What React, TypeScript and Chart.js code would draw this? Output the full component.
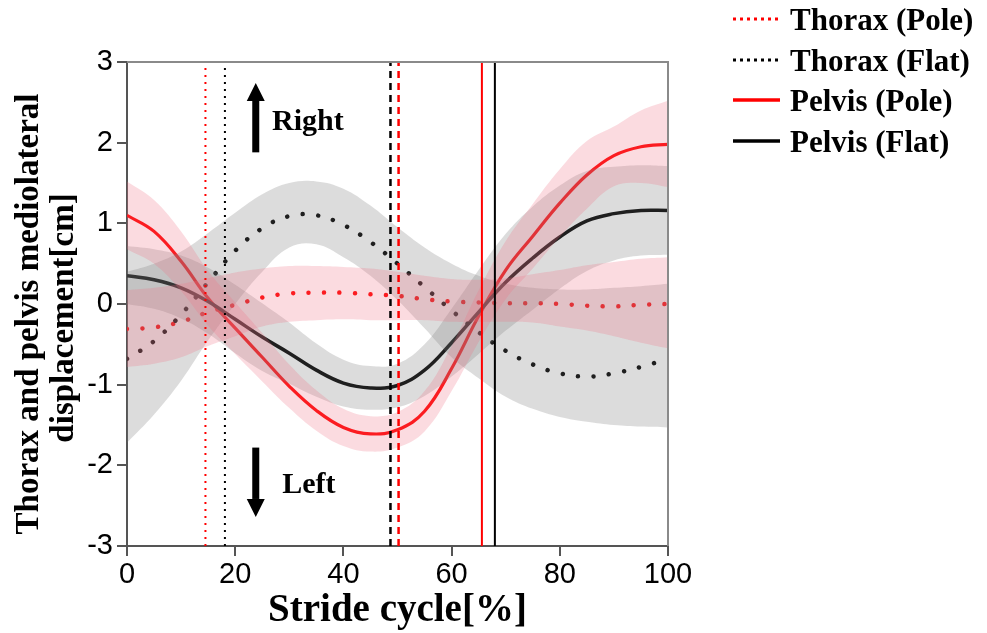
import React, { useEffect, useRef } from 'react';
import { Chart, registerables } from 'chart.js';

Chart.register(...registerables);

// ---------- data ----------
const stride = [0, 5, 10, 15, 20, 25, 30, 35, 40, 45, 50, 55, 60, 65, 70, 75, 80, 85, 90, 95, 100];

const thoraxPole = [-0.31, -0.29, -0.22, -0.1, -0.01, 0.08, 0.13, 0.14, 0.14, 0.12, 0.1, 0.06, 0.03, 0.02, 0.01, 0.01, 0.0, -0.02, -0.03, -0.01, 0.0];
const thoraxPoleUpper = [0.17, 0.2, 0.25, 0.32, 0.39, 0.44, 0.47, 0.47, 0.46, 0.44, 0.4, 0.35, 0.31, 0.3, 0.32, 0.37, 0.42, 0.48, 0.52, 0.56, 0.58];
const thoraxPoleLower = [-0.78, -0.74, -0.66, -0.52, -0.4, -0.28, -0.22, -0.2, -0.19, -0.2, -0.2, -0.2, -0.22, -0.22, -0.22, -0.23, -0.28, -0.33, -0.4, -0.48, -0.55];

const thoraxFlat = [-0.68, -0.46, -0.13, 0.27, 0.66, 0.94, 1.09, 1.1, 0.98, 0.77, 0.5, 0.21, -0.08, -0.35, -0.58, -0.75, -0.86, -0.9, -0.86, -0.78, -0.68];
const thoraxFlatUpper = [0.4, 0.5, 0.65, 0.88, 1.13, 1.36, 1.5, 1.52, 1.43, 1.22, 0.95, 0.7, 0.5, 0.35, 0.25, 0.2, 0.18, 0.18, 0.2, 0.22, 0.25];
const thoraxFlatLower = [-1.72, -1.37, -0.95, -0.45, 0.0, 0.4, 0.7, 0.74, 0.58, 0.35, 0.05, -0.3, -0.66, -0.92, -1.15, -1.3, -1.4, -1.46, -1.5, -1.52, -1.53];

const pelvisPole = [1.1, 0.9, 0.53, 0.07, -0.3, -0.66, -1.02, -1.32, -1.53, -1.61, -1.56, -1.33, -0.8, -0.15, 0.42, 0.84, 1.25, 1.6, 1.84, 1.95, 1.98];
const pelvisPoleUpper = [1.52, 1.29, 0.9, 0.41, 0.02, -0.36, -0.75, -1.07, -1.3, -1.39, -1.34, -1.08, -0.52, 0.17, 0.78, 1.24, 1.67, 2.02, 2.2, 2.4, 2.52];
const pelvisPoleLower = [0.68, 0.5, 0.16, -0.27, -0.62, -0.96, -1.29, -1.57, -1.76, -1.83, -1.78, -1.58, -1.08, -0.47, 0.06, 0.44, 0.83, 1.18, 1.46, 1.5, 1.45];

const pelvisFlat = [0.35, 0.3, 0.2, 0.03, -0.19, -0.41, -0.61, -0.82, -0.98, -1.04, -1.01, -0.82, -0.48, -0.1, 0.27, 0.57, 0.83, 1.03, 1.12, 1.16, 1.16];
const pelvisFlatUpper = [0.72, 0.68, 0.6, 0.45, 0.24, 0.01, -0.23, -0.49, -0.69, -0.77, -0.74, -0.5, -0.06, 0.42, 0.87, 1.21, 1.47, 1.65, 1.7, 1.72, 1.71];
const pelvisFlatLower = [0.0, -0.06, -0.18, -0.37, -0.61, -0.83, -0.99, -1.15, -1.27, -1.31, -1.28, -1.14, -0.9, -0.62, -0.33, -0.07, 0.19, 0.41, 0.54, 0.6, 0.61];

// event markers (stride %)
const thoraxEventX = [14.5, 18.1]; // pole, flat (dotted)
const thoraxEvent2X = [50.2, 48.7]; // pole, flat (dashed)
const pelvisEventX = [65.6, 68.0]; // pole, flat (solid)

const xTicks = [0, 20, 40, 60, 80, 100];
const yTicks = [-3, -2, -1, 0, 1, 2, 3];

const legendLabels = ['Thorax (Pole)', 'Thorax (Flat)', 'Pelvis (Pole)', 'Pelvis (Flat)'];
const directionLabels = ['Right', 'Left'];
const yTitleLines = ['Thorax and pelvis mediolateral', 'displacement[cm]'];
const xTitle = 'Stride cycle[%]';

// ---------- styles ----------
const RED = '#ff0000';
const BLACK = '#000000';
const PINK_FILL = 'rgba(240, 110, 130, 0.25)';
const GRAY_FILL = 'rgba(120, 120, 120, 0.26)';
const SERIF = '"Liberation Serif", "Times New Roman", serif';
const SANS = '"Liberation Sans", Arial, sans-serif';

const pts = (arr: number[]) => stride.map((x, i) => ({ x, y: arr[i] }));
const vline = (x: number) => [{ x, y: yTicks[0] }, { x, y: yTicks[yTicks.length - 1] }];

export default function App() {
  const ref = useRef<HTMLCanvasElement | null>(null);

  useEffect(() => {
    const canvas = ref.current;
    if (!canvas) return;

    const base = { pointRadius: 0, pointHoverRadius: 0, tension: 0.4 };
    const noBorder = { borderColor: 'rgba(0,0,0,0)', borderWidth: 0 };

    const datasets: any[] = [];
    // vertical event lines (top)
    const vStyles = [
      { x: thoraxEventX[0], color: RED, dash: [2, 5], w: 2 },
      { x: thoraxEventX[1], color: BLACK, dash: [2, 5], w: 2 },
      { x: thoraxEvent2X[0], color: RED, dash: [7, 5], w: 2.5 },
      { x: thoraxEvent2X[1], color: BLACK, dash: [7, 5], w: 2.5 },
      { x: pelvisEventX[0], color: RED, dash: [], w: 2 },
      { x: pelvisEventX[1], color: BLACK, dash: [], w: 2 },
    ];
    vStyles.forEach((v) => {
      datasets.push({ ...base, data: vline(v.x), borderColor: v.color, borderWidth: v.w, borderDash: v.dash, fill: false, order: 0, tension: 0 });
    });

    // bands (drawn over the mean lines)
    const bands = [
      { up: pelvisPoleUpper, lo: pelvisPoleLower, color: PINK_FILL },
      { up: thoraxPoleUpper, lo: thoraxPoleLower, color: PINK_FILL },
      { up: pelvisFlatUpper, lo: pelvisFlatLower, color: GRAY_FILL },
      { up: thoraxFlatUpper, lo: thoraxFlatLower, color: GRAY_FILL },
    ];
    bands.forEach((b) => {
      const upIdx = datasets.length;
      datasets.push({ ...base, ...noBorder, data: pts(b.up), fill: { target: upIdx + 1 }, backgroundColor: b.color, order: 1 });
      datasets.push({ ...base, ...noBorder, data: pts(b.lo), fill: false, order: 1 });
    });

    // mean lines
    datasets.push({ ...base, data: pts(pelvisFlat), borderColor: BLACK, borderWidth: 3.5, fill: false, order: 2 });
    datasets.push({ ...base, data: pts(pelvisPole), borderColor: RED, borderWidth: 3.2, fill: false, order: 2 });
    datasets.push({ ...base, data: pts(thoraxFlat), borderColor: BLACK, borderWidth: 4.5, borderDash: [0.01, 15.5], borderCapStyle: 'round', fill: false, order: 2 });
    datasets.push({ ...base, data: pts(thoraxPole), borderColor: RED, borderWidth: 4.5, borderDash: [0.01, 15.5], borderCapStyle: 'round', fill: false, order: 2 });

    const overlay = {
      id: 'overlay',
      afterDatasetsDraw(chart: any) {
        const { ctx, chartArea, scales } = chart;
        const xs = scales.x, ys = scales.y;
        ctx.save();
        // top & right frame
        ctx.strokeStyle = '#8a8a8a';
        ctx.lineWidth = 2;
        ctx.beginPath();
        ctx.moveTo(chartArea.left, chartArea.top);
        ctx.lineTo(chartArea.right, chartArea.top);
        ctx.lineTo(chartArea.right, chartArea.bottom);
        ctx.stroke();

        // direction arrows
        const arrows = [
          { x: 23.8, from: 1.88, to: 2.74, label: directionLabels[0], lx: 26.8, ly: 2.16 },
          { x: 23.8, from: -1.78, to: -2.64, label: directionLabels[1], lx: 28.7, ly: -2.34 },
        ];
        ctx.fillStyle = '#000';
        arrows.forEach((a) => {
          const px = xs.getPixelForValue(a.x);
          const p0 = ys.getPixelForValue(a.from);
          const p1 = ys.getPixelForValue(a.to);
          const dir = p1 < p0 ? -1 : 1;
          const head = 18;
          const baseY = p1 - dir * head;
          ctx.fillRect(px - 3.5, Math.min(p0, baseY), 7, Math.abs(baseY - p0));
          ctx.beginPath();
          ctx.moveTo(px - 9, baseY);
          ctx.lineTo(px + 9, baseY);
          ctx.lineTo(px, p1);
          ctx.closePath();
          ctx.fill();
          ctx.font = `bold 30px ${SERIF}`;
          ctx.textAlign = 'left';
          ctx.textBaseline = 'alphabetic';
          ctx.fillText(a.label, xs.getPixelForValue(a.lx), ys.getPixelForValue(a.ly));
        });
        ctx.restore();
      },
      afterDraw(chart: any) {
        const { ctx, chartArea } = chart;
        ctx.save();
        // y-axis title (two lines, rotated)
        ctx.translate(29, (chartArea.top + chartArea.bottom) / 2 + 10);
        ctx.rotate(-Math.PI / 2);
        ctx.fillStyle = '#000';
        ctx.font = `bold 33px ${SERIF}`;
        ctx.textAlign = 'center';
        ctx.textBaseline = 'middle';
        ctx.fillText(yTitleLines[0], 0, 0);
        ctx.fillText(yTitleLines[1], -4, 35);
        ctx.restore();

        ctx.save();
        const items = [
          { color: RED, dash: [3, 4], w: 3 },
          { color: BLACK, dash: [3, 4], w: 3 },
          { color: RED, dash: [], w: 3.5 },
          { color: BLACK, dash: [], w: 3.5 },
        ];
        const rowY = [19, 60, 100, 141];
        items.forEach((it, i) => {
          ctx.strokeStyle = it.color;
          ctx.lineWidth = it.w;
          ctx.setLineDash(it.dash);
          ctx.beginPath();
          ctx.moveTo(733, rowY[i]);
          ctx.lineTo(780, rowY[i]);
          ctx.stroke();
          ctx.setLineDash([]);
          ctx.fillStyle = '#000';
          ctx.font = `bold 31px ${SERIF}`;
          ctx.textAlign = 'left';
          ctx.textBaseline = 'middle';
          ctx.fillText(legendLabels[i], 790, rowY[i] + 3);
        });
        ctx.restore();
      },
    };

    const chart = new Chart(canvas, {
      type: 'line',
      data: { datasets },
      options: {
        animation: false,
        responsive: false,
        events: [],
        layout: { padding: { top: 62, right: 319, left: 0, bottom: 0 } },
        plugins: { legend: { display: false }, tooltip: { enabled: false } },
        scales: {
          x: {
            type: 'linear',
            min: xTicks[0],
            max: xTicks[xTicks.length - 1],
            afterBuildTicks: (s: any) => { s.ticks = xTicks.map((v) => ({ value: v })); },
            afterFit: (s: any) => { s.height = 87; },
            ticks: { color: '#000', font: { family: SANS, size: 29 }, padding: 2, maxRotation: 0 },
            grid: { display: true, drawOnChartArea: false, drawTicks: true, tickLength: 10, color: '#555', lineWidth: 2 },
            border: { display: true, color: '#555', width: 2 },
            title: { display: true, text: xTitle, color: '#000', font: { family: SERIF, size: 39, weight: 'bold', lineHeight: 1 }, padding: { top: 0, bottom: 3 } },
          },
          y: {
            type: 'linear',
            min: yTicks[0],
            max: yTicks[yTicks.length - 1],
            afterBuildTicks: (s: any) => { s.ticks = yTicks.map((v) => ({ value: v })); },
            afterFit: (s: any) => { s.width = 127; },
            ticks: { color: '#000', font: { family: SANS, size: 29 }, padding: 4 },
            grid: { display: true, drawOnChartArea: false, drawTicks: true, tickLength: 10, color: '#555', lineWidth: 2 },
            border: { display: true, color: '#555', width: 2 },
            title: { display: false },
          },
        },
      },
      plugins: [overlay],
    });
    return () => chart.destroy();
  }, []);

  return (
    <div style={{ position: 'fixed', left: 0, top: 0, width: 987, height: 633, background: '#fff' }}>
      <canvas ref={ref} width={987} height={633} style={{ display: 'block' }} />
    </div>
  );
}
